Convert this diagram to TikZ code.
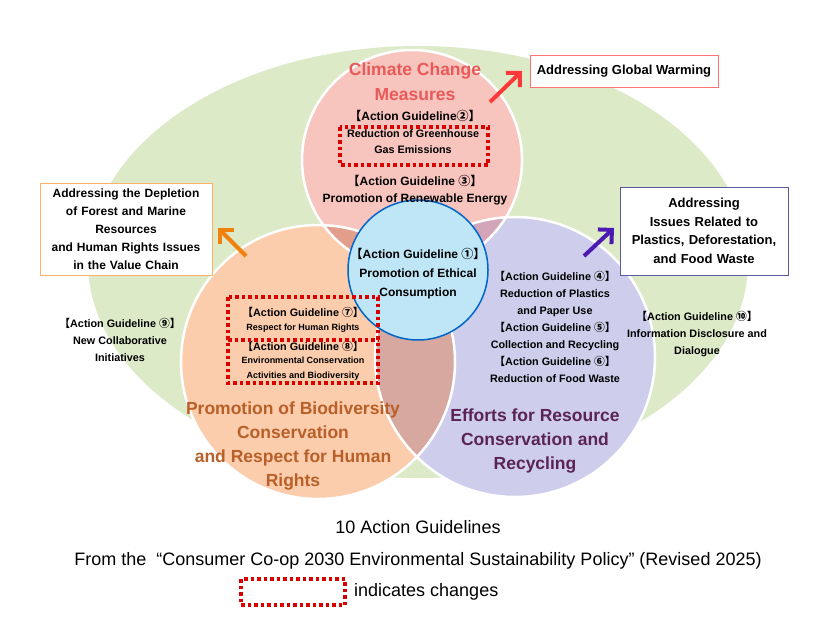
\documentclass[tikz,border=0pt]{standalone}
\usepackage{fontspec}
\setmainfont{Liberation Sans}
\newfontfamily\cjkf{Noto Sans CJK JP}
\newcommand{\lb}{{\cjkf【}}
\newcommand{\rb}{{\cjkf】}}
\newcommand{\cn}[1]{{\cjkf #1}}
\usetikzlibrary{arrows.meta}
\definecolor{cg}{RGB}{220,234,200}
\definecolor{cr}{RGB}{248,196,190}
\definecolor{co}{RGB}{251,205,172}
\definecolor{cp}{RGB}{206,206,236}
\definecolor{cro}{RGB}{226,158,138}
\definecolor{crp}{RGB}{210,165,185}
\definecolor{cop}{RGB}{214,168,160}
\definecolor{cb}{RGB}{190,230,246}
\definecolor{tr}{RGB}{232,90,90}
\definecolor{to}{RGB}{185,95,40}
\definecolor{tp}{RGB}{90,35,85}
\begin{document}
\begin{tikzpicture}[x=1pt,y=-1pt,
  t/.style={font=\bfseries\fontsize{12}{14}\selectfont,align=center,inner sep=0pt},
  ts/.style={font=\bfseries\fontsize{10.8}{12}\selectfont,align=center,inner sep=0pt},
  big/.style={font=\bfseries\fontsize{17.5}{20}\selectfont,align=center,inner sep=0pt},
  reg/.style={font=\fontsize{18}{20}\selectfont,inner sep=0pt},
  chg/.style={draw=red!85!black,line width=3.5pt,dash pattern=on 3.5pt off 3pt},
  box/.style={draw,fill=white,line width=1pt,align=center,inner sep=3pt,font=\bfseries\fontsize{13}{18}\selectfont},
  arr/.style={line width=4pt,-{Straight Barb[length=10pt,width=20pt,line width=4pt]}}]
\useasboundingbox (0,0) rectangle (837,637);
\fill[white] (0,0) rectangle (837,637);
\fill[cg] (418,262) ellipse [x radius=330, y radius=216];
\def\cR{(412,160) circle (110)}
\def\cO{(318,362) circle (137)}
\def\cP{(515,357) circle (140)}
\fill[cr] \cR; \fill[co] \cO; \fill[cp] \cP;
\begin{scope}\clip \cR; \fill[cro] \cO; \end{scope}
\begin{scope}\clip \cR; \fill[crp] \cP; \end{scope}
\begin{scope}\clip \cO; \fill[cop] \cP; \end{scope}
\draw[white,line width=2.5pt] \cR \cO \cP;
\node[circle,minimum size=140pt,fill=cb,draw=blue!50!cyan!80!black,line width=1.5pt] (c1) at (418,270) {};
% titles
\node[big,text=tr] (tc) at (415,82) {Climate Change\\[5pt]Measures};
\node[big,text=to] (to) at (293,446) {Promotion of Biodiversity\\[4pt]Conservation\\[4pt]and Respect for Human\\[4pt]Rights};
\node[big,text=tp] (tp) at (535,441) {Efforts for Resource\\[4pt]Conservation and\\[4pt]Recycling};
% red circle text
\node[t] (g2) at (415,116) {\lb Action Guideline\cn{②}\rb};
\node[ts] (g2t) at (413,142) {Reduction of Greenhouse\\[4pt]Gas Emissions};
\draw[chg] (340,127) rectangle (488,165);
\node[t] (g3) at (415,190.5) {\lb Action Guideline \cn{③}\rb\\[3pt]Promotion of Renewable Energy};
% center
\node[t] (g1) at (418,274) {\lb Action Guideline \cn{①}\rb\\[5pt]Promotion of Ethical\\[5pt]Consumption};
% right
\node[ts] (g4) at (555,327) {\lb Action Guideline \cn{④}\rb\\[5pt]Reduction of Plastics\\[5pt]and Paper Use\\[5pt]\lb Action Guideline \cn{⑤}\rb\\[5pt]Collection and Recycling\\[5pt]\lb Action Guideline \cn{⑥}\rb\\[5pt]Reduction of Food Waste};
% left dashed
\node[ts] (g7) at (303,312) {\lb Action Guideline \cn{⑦}\rb};
\node[ts,font=\bfseries\fontsize{9}{10}\selectfont] (g7t) at (303,328) {Respect for Human Rights};
\node[ts] (g8) at (303,346) {\lb Action Guideline \cn{⑧}\rb};
\node[ts,font=\bfseries\fontsize{9}{10}\selectfont] (g8t) at (303,369) {Environmental Conservation\\[5pt]Activities and Biodiversity};
\draw[chg] (228,297) rectangle (378,383);
\draw[chg] (228,340) -- (378,340);
% outside
\node[ts] (g9) at (120,340) {\lb Action Guideline \cn{⑨}\rb\\[5pt]New Collaborative\\[5pt]Initiatives};
\node[ts] (g10) at (697,334) {\lb Action Guideline \cn{⑩}\rb\\[5pt]Information Disclosure and\\[5pt]Dialogue};
% boxes
\node[box,draw=red!40!pink,minimum width=188pt,minimum height=32pt] (bg) at (624,71) {Addressing Global Warming};
\node[box,draw=orange!60,text width=166pt,minimum height=92pt,font=\bfseries\fontsize{12}{18}\selectfont] (bl) at (126,229) {Addressing the Depletion\\of Forest and Marine\\Resources\\and Human Rights Issues\\in the Value Chain};
\node[box,draw=blue!30!gray,text width=162pt,minimum height=88pt,font=\bfseries\fontsize{13}{18.5}\selectfont] (br) at (704,231) {Addressing\\Issues Related to\\Plastics, Deforestation,\\and Food Waste};
% arrows
\coordinate (a1s) at (490,102); \coordinate (a1e) at (522,71);
\coordinate (a2s) at (246,256); \coordinate (a2e) at (218,228);
\coordinate (a3s) at (584,256); \coordinate (a3e) at (614,228);
\draw[arr,draw=red!70!pink] (a1s) -- (a1e);
\draw[arr,draw=orange!80!brown] (a2s) -- (a2e);
\draw[arr,draw=blue!50!violet!80!gray] (a3s) -- (a3e);
% bottom
\node[reg] (l1) at (418,527) {10 Action Guidelines};
\node[reg] (l2) at (418,561) {From the \ \textquotedblleft Consumer Co-op 2030 Environmental Sustainability Policy\textquotedblright\ (Revised 2025)};
\draw[chg] (241,579) rectangle (345,605);
\node[reg,anchor=west] (l3) at (354,592) {indicates changes};
\end{tikzpicture}
\end{document}
